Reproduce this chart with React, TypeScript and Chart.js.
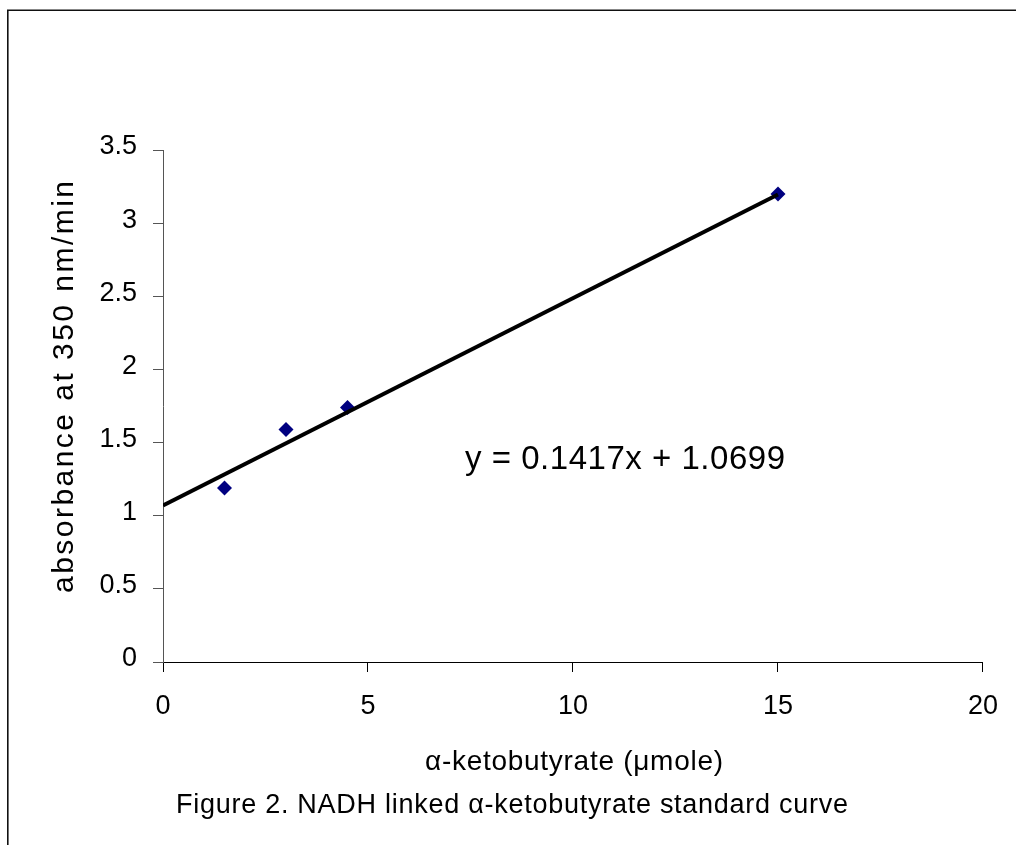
import React, { useEffect, useRef } from "react";
import { Chart, registerables } from "chart.js";

Chart.register(...registerables);

// ---- data ----
const substrateUmole = [1.5, 3, 4.5, 15];
const absorbance = [1.19, 1.59, 1.74, 3.2];
const trendX = [0, 15];
const trendY = [1.0699, 3.1954];
const equationText = "y = 0.1417x + 1.0699";
const xTitle = "\u03b1-ketobutyrate (\u03bcmole)";
const yTitle = "absorbance at 350 nm/min";
const captionText = "Figure 2. NADH linked \u03b1-ketobutyrate standard curve";
const xMin = 0, xMax = 20, xStep = 5;
const yMin = 0, yMax = 3.5, yStep = 0.5;

const FAMILY = "'Liberation Sans', Arial, Helvetica, sans-serif";

function fitText(ctx: CanvasRenderingContext2D, text: string, x: number, y: number, size: number, target: number) {
  ctx.font = `${size}px ${FAMILY}`;
  (ctx as any).letterSpacing = "0px";
  const w = ctx.measureText(text).width;
  const ls = (target - w) / Math.max(1, text.length - 1);
  (ctx as any).letterSpacing = `${ls}px`;
  ctx.fillText(text, x, y);
  (ctx as any).letterSpacing = "0px";
}

const decorPlugin = {
  id: "decor",
  afterDraw(chart: any) {
    const ctx: CanvasRenderingContext2D = chart.ctx;
    ctx.save();
    // frame
    ctx.strokeStyle = "#111";
    ctx.lineWidth = 1.6;
    ctx.beginPath();
    ctx.moveTo(7.8, 845);
    ctx.lineTo(7.8, 10.3);
    ctx.lineTo(1016, 10.3);
    ctx.stroke();

    ctx.fillStyle = "#000";
    ctx.textAlign = "left";
    ctx.textBaseline = "alphabetic";
    fitText(ctx, equationText, 465, 469, 33, 320);
    fitText(ctx, xTitle, 425, 770, 28, 298);
    fitText(ctx, captionText, 176, 813, 27, 672);

    ctx.translate(73, 593);
    ctx.rotate(-Math.PI / 2);
    fitText(ctx, yTitle, 0, 0, 30, 412);
    ctx.restore();
  },
};

export default function App() {
  const ref = useRef<HTMLCanvasElement | null>(null);

  useEffect(() => {
    if (!ref.current) return;
    const chart = new Chart(ref.current, {
      type: "scatter",
      data: {
        datasets: [
          {
            type: "line",
            data: trendX.map((x, i) => ({ x, y: trendY[i] })),
            borderColor: "#000",
            borderWidth: 4,
            pointRadius: 0,
            showLine: true,
            fill: false,
          } as any,
          {
            type: "scatter",
            data: substrateUmole.map((x, i) => ({ x, y: absorbance[i] })),
            pointStyle: "rectRot",
            pointRadius: 7.5,
            backgroundColor: "#000080",
            borderColor: "#000080",
            borderWidth: 0,
          },
        ],
      },
      options: {
        responsive: false,
        animation: false,
        devicePixelRatio: 1,
        layout: { padding: { left: 80, right: 30, top: 150, bottom: 123 } },
        plugins: { legend: { display: false }, tooltip: { enabled: false } },
        scales: {
          x: {
            type: "linear",
            position: "bottom",
            min: xMin,
            max: xMax,
            ticks: {
              stepSize: xStep,
              color: "#000",
              font: { family: FAMILY, size: 27 },
              padding: 18,
              callback: (v: any) => String(Number(v)),
            },
            grid: { drawOnChartArea: false, drawTicks: true, tickLength: 10, color: "#000", tickWidth: 1 },
            border: { display: true, color: "#000", width: 1 },
            afterFit: (s: any) => { s.height = 60; },
          },
          y: {
            type: "linear",
            min: yMin,
            max: yMax,
            ticks: {
              stepSize: yStep,
              color: "#000",
              font: { family: FAMILY, size: 27 },
              padding: 16,
              labelOffset: -3,
              callback: (v: any) => String(Number(v)),
            },
            grid: { drawOnChartArea: false, drawTicks: true, tickLength: 10, color: "#555", tickWidth: 1 },
            border: { display: true, color: "#555", width: 1 },
            afterFit: (s: any) => { s.width = 83; },
          },
        },
      } as any,
      plugins: [decorPlugin],
    });
    return () => chart.destroy();
  }, []);

  return (
    <div style={{ position: "absolute", left: 0, top: 0, width: 1016, height: 845, background: "#fff" }}>
      <canvas ref={ref} width={1016} height={845} />
    </div>
  );
}
